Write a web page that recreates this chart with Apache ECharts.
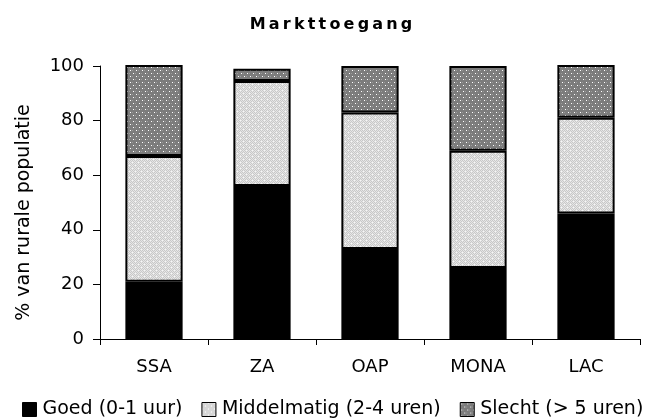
<!DOCTYPE html>
<html>
<head>
<meta charset="utf-8">
<script src="https://cdn.jsdelivr.net/npm/echarts@6/dist/echarts.min.js"></script>
<style>
html,body{margin:0;padding:0;background:#fff;}
#chart{width:651px;height:418px;}
</style>
</head>
<body>
<div id="chart"></div>
<script>
var regios = ['SSA', 'ZA', 'OAP', 'MONA', 'LAC'];
var goed = [21, 56, 33, 26, 46];
var middelmatig = [46, 38.5, 50, 43, 35];
var slecht = [34, 4.5, 17, 31, 20];
var yTicks = [0, 20, 40, 60, 80, 100];
var titel = 'Markttoegang';
var lettertype = '"DejaVu Sans", "Liberation Sans", Arial, sans-serif';

// pattern fills like the old excel chart
function maakPatroon(soort){
  var c = document.createElement('canvas');
  c.width = 6; c.height = 6;
  var ctx = c.getContext('2d');
  if(soort==='licht'){
    ctx.fillStyle = '#e6e6e6';
    ctx.fillRect(0,0,6,6);
    ctx.fillStyle = '#c8c8c8';
    for(var i=0;i<6;i++){
      for(var j=0;j<6;j++){
        if((i+j)%2===0) ctx.fillRect(i,j,1,1);
      }
    }
    ctx.fillStyle = '#f6f6f6';
    ctx.fillRect(0,0,1,1);
    ctx.fillRect(3,3,1,1);
  }else{
    ctx.fillStyle = '#7c7c7c';
    ctx.fillRect(0,0,6,6);
    ctx.fillStyle = '#ffffff';
    ctx.fillRect(1,1,1,1);
    ctx.fillRect(4,4,1,1);
    ctx.fillStyle = '#9a9a9a';
    ctx.fillRect(3,1,1,1);
    ctx.fillRect(0,4,1,1);
  }
  return {image: c, repeat: 'repeat'};
}

var lichtPatroon = maakPatroon('licht');
var donkerPatroon = maakPatroon('donker');

var myChart = echarts.init(document.getElementById('chart'));

var option = {
  animation: false,
  backgroundColor: '#fff',
  textStyle: {fontFamily: lettertype},
  title: {
    text: titel.split('').join('\u2009'),
    left: 331,
    textAlign: 'center',
    top: 17,
    padding: 0,
    textStyle: {fontSize: 16, fontWeight: 'bold', color: '#000', fontFamily: lettertype}
  },
  legend: {
    top: 400,
    left: 22,
    padding: 0,
    itemWidth: 14,
    itemHeight: 14,
    itemGap: 19,
    icon: 'rect',
    itemStyle: {borderWidth: 1, borderColor: '#000'},
    textStyle: {fontSize: 19, color: '#000', padding: [0,0,0,1]},
    data: ['Goed (0-1 uur)', 'Middelmatig (2-4 uren)', 'Slecht (> 5 uren)']
  },
  grid: {left: 100, right: 11, top: 66, bottom: 79},
  xAxis: {
    type: 'category',
    data: regios,
    axisLine: {lineStyle: {color: '#000', width: 1}},
    axisTick: {show: true, length: 6, lineStyle: {color: '#000'}},
    axisLabel: {color: '#000', fontSize: 18, margin: 19}
  },
  yAxis: {
    type: 'value',
    min: 0,
    max: 100,
    interval: 20,
    name: '% van rurale populatie',
    nameLocation: 'middle',
    nameGap: 66,
    nameTextStyle: {fontSize: 19, color: '#000', padding: [0, 20, 0, 0]},
    axisLine: {show: true, lineStyle: {color: '#000', width: 1}},
    axisTick: {show: true, length: 7, lineStyle: {color: '#000'}},
    splitLine: {show: false},
    axisLabel: {
      color: '#000', fontSize: 18, margin: 16,
      formatter: function(v){ return yTicks.indexOf(v) >= 0 ? String(v) : ''; }
    }
  },
  series: [
    {
      name: 'Goed (0-1 uur)',
      type: 'bar',
      stack: 'totaal',
      barWidth: '53%',
      data: goed,
      itemStyle: {color: '#000', borderColor: '#000', borderWidth: 2}
    },
    {
      name: 'Middelmatig (2-4 uren)',
      type: 'bar',
      stack: 'totaal',
      data: middelmatig,
      itemStyle: {color: lichtPatroon, borderColor: '#000', borderWidth: 2}
    },
    {
      name: 'Slecht (> 5 uren)',
      type: 'bar',
      stack: 'totaal',
      data: slecht,
      itemStyle: {color: donkerPatroon, borderColor: '#000', borderWidth: 2}
    }
  ]
};

myChart.setOption(option);
</script>
</body>
</html>
